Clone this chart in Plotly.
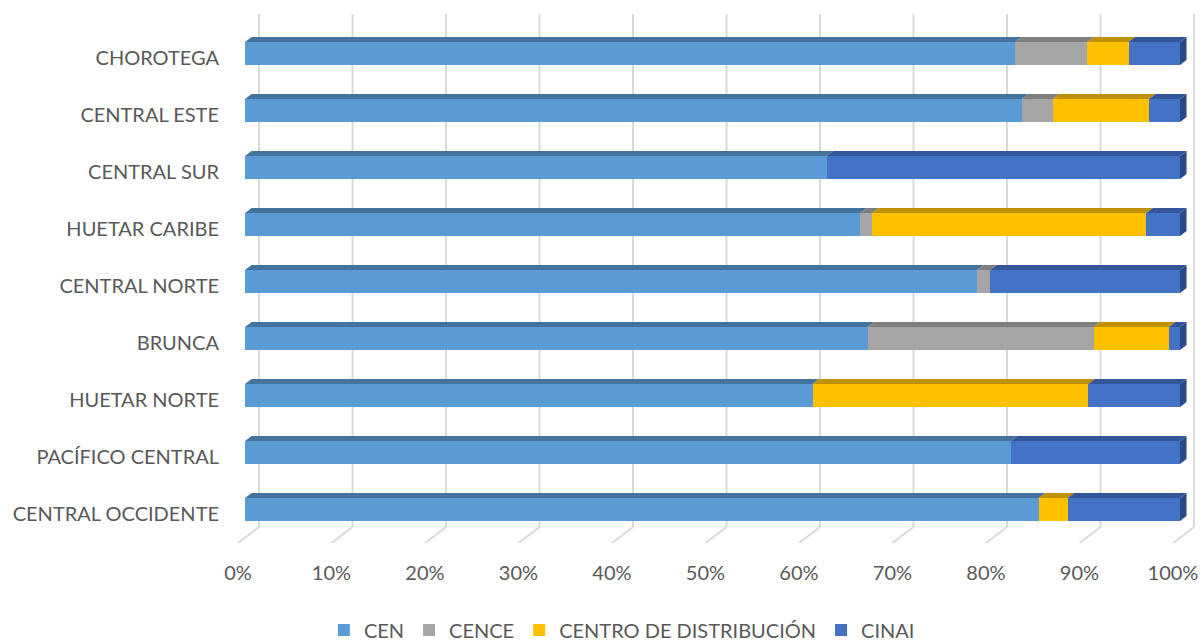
import plotly.graph_objects as go

# ---------------- data (top to bottom as shown) ----------------
CATEGORIES = ["CHOROTEGA", "CENTRAL ESTE", "CENTRAL SUR", "HUETAR CARIBE",
              "CENTRAL NORTE", "BRUNCA", "HUETAR NORTE", "PACÍFICO CENTRAL",
              "CENTRAL OCCIDENTE"]
CEN = [82.4, 83.1, 62.2, 65.8, 78.3, 66.6, 60.7, 81.9, 84.9]
CENCE = [7.7, 3.3, 0.0, 1.3, 1.4, 24.2, 0.0, 0.0, 0.0]
CENTRO_DIST = [4.4, 10.3, 0.0, 29.3, 0.0, 8.0, 29.5, 0.0, 3.1]
CINAI = [5.5, 3.3, 37.8, 3.6, 20.3, 1.2, 9.8, 18.1, 12.0]
SERIES_NAMES = ["CEN", "CENCE", "CENTRO DE DISTRIBUCIÓN", "CINAI"]
TICK_VALUES = [0, 10, 20, 30, 40, 50, 60, 70, 80, 90, 100]
TICK_LABELS = ["0%", "10%", "20%", "30%", "40%", "50%", "60%", "70%", "80%", "90%", "100%"]

# ---------------- styling ----------------
FRONT = ["#5B9BD5", "#A5A5A5", "#FFC000", "#4472C4"]
TOP = ["#44739E", "#7F7F7F", "#BF9000", "#33569A"]
SIDE = ["#3A6690", "#6E6E6E", "#A67D00", "#2A4A86"]
FONT = "Lato"
TXT = "#595959"

BAR_W = 0.403        # front face thickness (category units)
DX, DY = 0.7, 0.088  # depth offset of the top face (x units, category units)
BACK = 1.5           # back wall offset (x units)
FLOOR_FRONT = -0.75  # floor front edge offset (x units)
X_RANGE = [-1.604, 102.14]
Y_RANGE = [-0.588, 8.693]
Y_WALL_BOTTOM = -0.307

series = [CEN, CENCE, CENTRO_DIST, CINAI]
n = len(CATEGORIES)
ypos = [n - 1 - i for i in range(n)]

fig = go.Figure()

# gridlines: back wall + slanted floor
for t in TICK_VALUES:
    fig.add_shape(type="line", layer="below", xref="x", yref="y",
                  x0=t + BACK, x1=t + BACK, y0=Y_RANGE[1], y1=Y_WALL_BOTTOM,
                  line=dict(color="#D9D9D9", width=2))
    fig.add_shape(type="line", layer="below", xref="x", yref="y",
                  x0=t + BACK, x1=t + FLOOR_FRONT, y0=Y_WALL_BOTTOM, y1=Y_RANGE[0],
                  line=dict(color="#D9D9D9", width=2))

# front faces (stacked bars)
for k, (name, vals) in enumerate(zip(SERIES_NAMES, series)):
    fig.add_trace(go.Bar(
        name=name, y=ypos, x=vals, orientation="h", width=BAR_W,
        marker=dict(color=FRONT[k], line=dict(width=0)),
        hoverinfo="skip"))

# top faces and right side face
for i in range(n):
    yc = ypos[i]
    yt = yc + BAR_W / 2
    yb = yc - BAR_W / 2
    base = 0.0
    last_k = 0
    for k, vals in enumerate(series):
        v = vals[i]
        if v <= 0:
            continue
        x0, x1 = base, base + v
        fig.add_trace(go.Scatter(
            x=[x0, x1, x1 + DX, x0 + DX, x0],
            y=[yt, yt, yt + DY, yt + DY, yt],
            mode="lines", fill="toself", fillcolor=TOP[k],
            line=dict(width=0, color=TOP[k]), showlegend=False, hoverinfo="skip"))
        base = x1
        last_k = k
    fig.add_trace(go.Scatter(
        x=[base, base + DX, base + DX, base, base],
        y=[yb, yb + DY, yt + DY, yt, yb],
        mode="lines", fill="toself", fillcolor=SIDE[last_k],
        line=dict(width=0, color=SIDE[last_k]), showlegend=False, hoverinfo="skip"))

fig.update_layout(
    width=1204, height=641,
    margin=dict(l=230, r=4, t=14, b=98, autoexpand=False),
    paper_bgcolor="white", plot_bgcolor="white",
    barmode="stack", bargap=0,
    font=dict(family=FONT, size=20, color=TXT),
    showlegend=True,
    legend=dict(orientation="h", x=0.404, xanchor="center", y=-0.1645, yanchor="middle",
                traceorder="normal", font=dict(family=FONT, size=20, color=TXT),
                itemwidth=30),
    xaxis=dict(range=X_RANGE, showgrid=False, zeroline=False, showline=False,
               automargin=False,
               tickmode="array", tickvals=[t + FLOOR_FRONT for t in TICK_VALUES],
               ticktext=TICK_LABELS, ticks="", ticklabelstandoff=16, fixedrange=True),
    yaxis=dict(range=Y_RANGE, showgrid=False, zeroline=False, showline=False,
               automargin=False,
               tickmode="array", tickvals=[y - 0.08 for y in ypos],
               ticktext=CATEGORIES, ticks="", ticklabelstandoff=10, fixedrange=True),
)

fig.write_html("out.html", config={"displayModeBar": False},
               post_script="document.body.style.margin='0';"
                           "document.body.style.overflow='hidden';")
